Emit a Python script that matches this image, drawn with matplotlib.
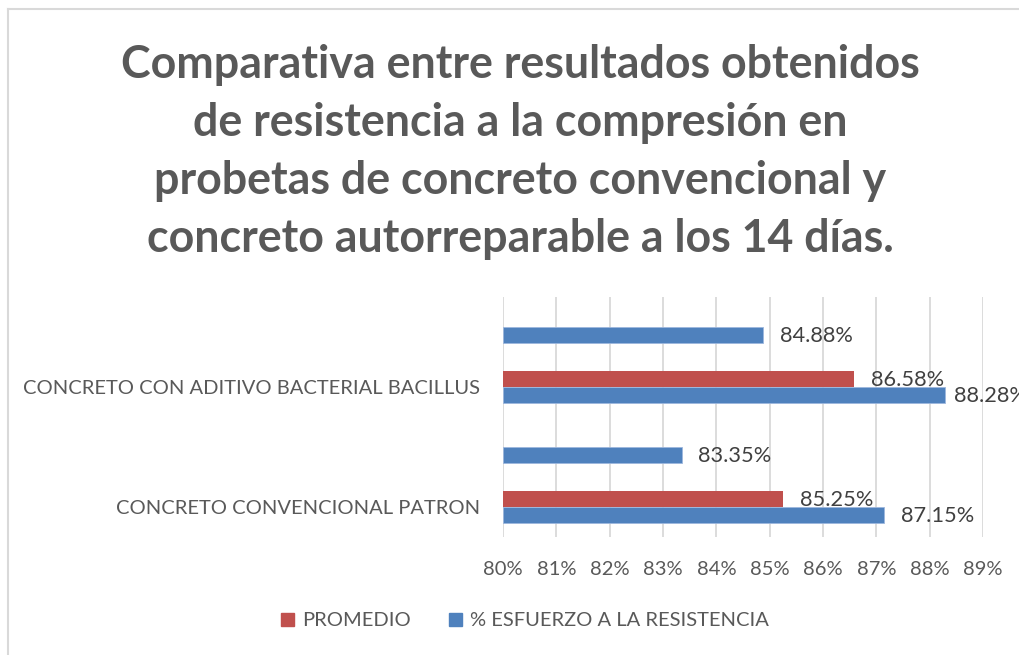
import numpy as np
import matplotlib
matplotlib.use('Agg')
from matplotlib import pyplot as plt
from matplotlib.patches import Patch
from matplotlib.lines import Line2D

# datos
categorias = ['CONCRETO CONVENCIONAL PATRON', 'CONCRETO CON ADITIVO BACTERIAL BACILLUS']
esfuerzo_1 = [87.15, 88.28]   # barra azul inferior
promedio = [85.25, 86.58]     # barra roja
esfuerzo_2 = [83.35, 84.88]   # barra azul superior
xticks = [80, 81, 82, 83, 84, 85, 86, 87, 88, 89]

azul = '#4F81BD'
rojo = '#C0504D'
gris = '#595959'

plt.rcParams['font.family'] = ['Lato', 'DejaVu Sans']

fig = plt.figure(figsize=(10.19, 6.55), dpi=100)
ax = fig.add_axes([503/1019, 1-537/655, 480/1019, 240/655])

y = np.arange(len(categorias))
h = 16/120
base = 80
ax.barh(y - h/2, np.array(esfuerzo_1) - base, left=base, height=h, color=azul, edgecolor='#9DB7DD', linewidth=0.6, zorder=3)
ax.barh(y + h/2, np.array(promedio) - base, left=base, height=h, color=rojo, zorder=3)
ax.barh(y + 52/120, np.array(esfuerzo_2) - base, left=base, height=h, color=azul, edgecolor='#9DB7DD', linewidth=0.6, zorder=3)

ax.set_xlim(80, 89)
ax.set_ylim(-0.25, 1.75)

# etiquetas de datos (se recorren a la izquierda si se salen del grafico)
for serie, off in [(esfuerzo_1, -h/2), (promedio, h/2), (esfuerzo_2, 52/120)]:
    for yi, v in zip(y, serie):
        fin = ax.transData.transform((v, 0))[0]
        dx = min(12, (954 - fin) * 0.72)
        ax.annotate('%.2f%%' % v, (v, yi + off), xytext=(dx, -1), textcoords='offset points',
                    va='center', ha='left', fontsize=15.7, color='#404040', zorder=4,
                    annotation_clip=False)

ax.set_xticks(xticks)
ax.set_xticklabels(['%d%%' % t for t in xticks], fontsize=14.5, color=gris)
ax.set_yticks(y)
ax.set_yticklabels(categorias, fontsize=14.5, color=gris)
ax.tick_params(length=0, pad=16.5, axis='y')
ax.tick_params(length=0, pad=17, axis='x')
ax.grid(axis='x', color='#D9D9D9', linewidth=1.3, zorder=0)
for s in ax.spines.values():
    s.set_visible(False)

fig.text(520/1019, 1-152/655, 'Comparativa entre resultados obtenidos\nde resistencia a la compresión en\n'
         'probetas de concreto convencional y\nconcreto autorreparable a los 14 días.',
         ha='center', va='center', fontsize=32.2, fontweight='bold', color=gris, linespacing=1.47)

handles = [Patch(color=rojo, label='PROMEDIO'), Patch(color=azul, label='% ESFUERZO A LA RESISTENCIA')]
fig.legend(handles=handles, loc='center', bbox_to_anchor=(525/1019, 1-621/655), ncol=2, frameon=False,
           fontsize=14.5, handlelength=0.65, handleheight=0.65, handletextpad=0.4, columnspacing=1.9,
           labelcolor=gris)

# borde del grafico
fig.add_artist(Line2D([8/1019, 1], [1-9/655, 1-9/655], color='#D9D9D9', linewidth=1.5))
fig.add_artist(Line2D([8/1019, 8/1019], [0, 1-9/655], color='#D9D9D9', linewidth=1.5))

plt.savefig('out.png', dpi=100)
